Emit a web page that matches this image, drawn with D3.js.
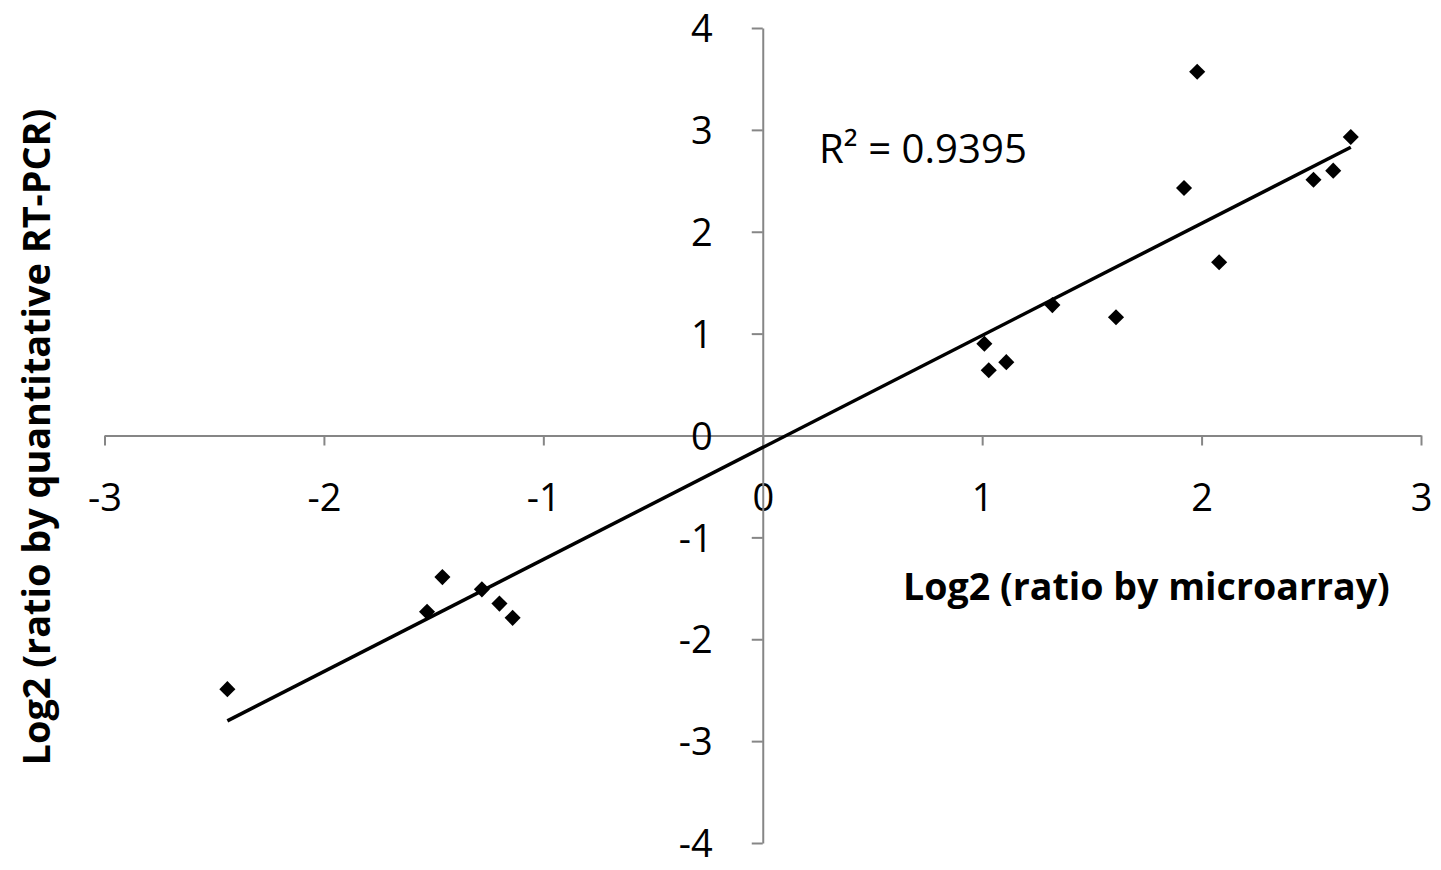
<!DOCTYPE html>
<html><head><meta charset="utf-8">
<script src="https://cdn.jsdelivr.net/npm/d3@7"></script>
<style>body{margin:0;background:#fff;} svg{display:block;}</style>
</head><body>
<svg id="c" width="1441" height="870"></svg>
<script>
const xValues = [-2.44,-1.53,-1.46,-1.28,-1.20,-1.14,1.01,1.03,1.11,1.32,1.61,1.92,1.98,2.08,2.51,2.60,2.68];
const yValues = [-2.49,-1.73,-1.39,-1.51,-1.65,-1.79,0.90,0.64,0.72,1.28,1.16,2.43,3.57,1.70,2.51,2.60,2.93];
const xTicks = [-3,-2,-1,0,1,2,3];
const yTicks = [-4,-3,-2,-1,0,1,2,3,4];
const r2Label = "R² = 0.9395";
const xTitle = "Log2 (ratio by microarray)";
const yTitle = "Log2 (ratio by quantitative RT-PCR)";

const svg = d3.select("#c");
const font = "'Open Sans', Lato, sans-serif";
const x = d3.scaleLinear().domain([-3,3]).range([104.5,1421]);
const y = d3.scaleLinear().domain([-4,4]).range([843,28]);
const axisColor = "#868686";

function fit(sel, target){
  const w = sel.node().getComputedTextLength();
  const fs = parseFloat(sel.attr("font-size"));
  sel.attr("font-size", fs*target/w);
}

const gx = svg.append("g").attr("transform",`translate(0,${y(0)})`)
  .call(d3.axisBottom(x).tickValues(xTicks).tickSize(10).tickSizeOuter(0).tickFormat(d3.format("d")));
const gy = svg.append("g").attr("transform",`translate(${x(0)},0)`)
  .call(d3.axisLeft(y).tickValues(yTicks).tickSize(11).tickSizeOuter(0).tickFormat(d3.format("d")));
[gx,gy].forEach(g=>{
  g.select(".domain").attr("stroke",axisColor).attr("stroke-width",2);
  g.selectAll(".tick line").attr("stroke",axisColor).attr("stroke-width",2);
  g.selectAll(".tick text").attr("font-family",font).attr("font-size",38).attr("fill","#000")
   .text(d=>d<0?"-"+Math.abs(d):d);
});
gx.selectAll(".tick text").attr("dy",null).attr("y",75);
gy.selectAll(".tick text").attr("x",-50).attr("dy","0.36em");

// regression line
const n = xValues.length;
const mx = d3.mean(xValues), my = d3.mean(yValues);
let sxy=0,sxx=0;
for(let i=0;i<n;i++){sxy+=(xValues[i]-mx)*(yValues[i]-my);sxx+=(xValues[i]-mx)**2;}
const slope=sxy/sxx, icpt=my-slope*mx;
const [x0,x1]=d3.extent(xValues);
svg.append("line").attr("x1",x(x0)).attr("y1",y(slope*x0+icpt))
  .attr("x2",x(x1)).attr("y2",y(slope*x1+icpt))
  .attr("stroke","#000").attr("stroke-width",3.5);

const sym = d3.symbol().type(d3.symbolDiamond2).size(165);
svg.append("g").selectAll("path").data(xValues.map((v,i)=>[v,yValues[i]])).join("path")
  .attr("d",sym).attr("transform",d=>`translate(${x(d[0])},${y(d[1])})`).attr("fill","#000");

const r2 = svg.append("text").attr("x",819).attr("y",163).attr("font-family",font).attr("font-size",34)
  .attr("fill","#000").text(r2Label);
fit(r2,208);
const xt = svg.append("text").attr("x",903).attr("y",600).attr("font-family",font).attr("font-size",34)
  .attr("font-weight","bold").attr("fill","#000").text(xTitle);
fit(xt,487);
const yt = svg.append("text").attr("transform","translate(50,437) rotate(-90)").attr("text-anchor","middle")
  .attr("font-family",font).attr("font-size",34).attr("font-weight","bold").attr("fill","#000").text(yTitle);
fit(yt,657);
</script>
</body></html>
